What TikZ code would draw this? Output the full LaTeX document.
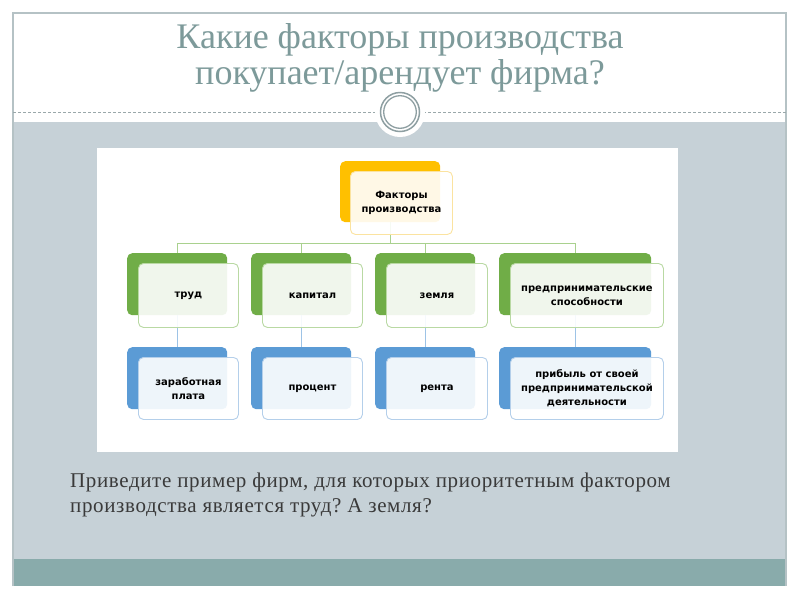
\documentclass[tikz,border=0pt]{standalone}
\usepackage{fontspec}
\setmainfont{Liberation Serif}
\newfontfamily\boxfont{DejaVu Sans}
\newfontfamily\bodyfont[LetterSpace=3]{Liberation Serif}
\definecolor{framec}{HTML}{B5C2C5}
\definecolor{slidegray}{HTML}{C6D1D7}
\definecolor{slideteal}{HTML}{89ABAB}
\definecolor{titlec}{HTML}{7D9A9A}
\definecolor{ringc}{HTML}{8E9FA2}
\definecolor{dashc}{HTML}{9AA8AA}
\definecolor{bodyc}{HTML}{3A3A3A}
\definecolor{yel}{HTML}{FFC000}
\definecolor{yellight}{HTML}{FBE3A0}
\definecolor{grn}{HTML}{70AD47}
\definecolor{grnlight}{HTML}{B9D9A3}
\definecolor{blu}{HTML}{5B9BD5}
\definecolor{blulight}{HTML}{B4CFEA}
\definecolor{grnline}{HTML}{A9D18E}
\definecolor{bluline}{HTML}{9DC3E6}
\tikzset{
  backbox/.style={anchor=north west, rounded corners=5pt, inner sep=0pt, minimum height=62pt},
  frontbox/.style={anchor=north west, rounded corners=5pt, inner sep=2pt, minimum height=64pt,
    fill=white, fill opacity=0.9, text opacity=1, line width=0.9pt, align=center,
    font=\boxfont\bfseries\fontsize{10}{14}\selectfont, text=black},
  gconn/.style={draw=grnline, line width=1.1pt},
  bconn/.style={draw=bluline, line width=1.1pt},
  titletext/.style={anchor=base, text=titlec, font=\fontsize{36}{40}\selectfont, inner sep=0pt},
  bodytext/.style={anchor=base west, text=bodyc, font=\bodyfont\frenchspacing\fontsize{21}{25}\selectfont, inner sep=0pt}
}
\begin{document}
\begin{tikzpicture}[x=1pt,y=-1pt]
\useasboundingbox (0,0) rectangle (800,600);
\fill[white] (0,0) rectangle (800,600);
% slide frame
\fill[white] (13,13) rectangle (786,122);
\fill[slidegray] (13,122) rectangle (786,559);
\fill[slideteal] (13,559) rectangle (786,586);
\draw[framec, line width=1.3pt] (13,586) -- (13,13) -- (786,13) -- (786,586);
\draw[dashc, line width=0.8pt, dash pattern=on 3pt off 2pt] (13,112) -- (786,112);
% circle ornament
\fill[white] (400,112) circle[radius=25];
\draw[ringc, line width=1.5pt] (400,112) circle[radius=19.5];
\draw[ringc, line width=1.3pt] (400,112) circle[radius=16.3];
% title
\node[titletext] (title1) at (400,48) {Какие факторы производства};
\node[titletext] (title2) at (400,84) {покупает/арендует фирма?};
% picture panel
\fill[white] (97,148) rectangle (678,452);
% back boxes
\node[backbox, fill=yel, minimum width=100pt, minimum height=61pt] (tb) at (340,161) {};
\node[backbox, fill=grn, minimum width=100pt] (g1b) at (127,253) {};
\node[backbox, fill=grn, minimum width=100pt] (g2b) at (251,253) {};
\node[backbox, fill=grn, minimum width=100pt] (g3b) at (375,253) {};
\node[backbox, fill=grn, minimum width=152pt] (g4b) at (499,253) {};
\node[backbox, fill=blu, minimum width=100pt] (b1b) at (127,347) {};
\node[backbox, fill=blu, minimum width=100pt] (b2b) at (251,347) {};
\node[backbox, fill=blu, minimum width=100pt] (b3b) at (375,347) {};
\node[backbox, fill=blu, minimum width=152pt] (b4b) at (499,347) {};
% connectors
\draw[gconn] (tb.south) -- ++(0,21) -| (g1b.north);
\draw[gconn] (tb.south) -- ++(0,21) -| (g2b.north);
\draw[gconn] (tb.south) -- ++(0,21) -| (g3b.north);
\draw[gconn] (tb.south) -- ++(0,21) -| (g4b.north);
\draw[bconn] (g1b.south) -- (b1b.north);
\draw[bconn] (g2b.south) -- (b2b.north);
\draw[bconn] (g3b.south) -- (b3b.north);
\draw[bconn] (g4b.south) -- (b4b.north);
% front boxes
\node[frontbox, draw=yellight, minimum width=102pt, minimum height=63pt] (top) at (350,171) {Факторы\\производства};
\node[frontbox, draw=grnlight, minimum width=100pt] (g1) at (138,263) {труд};
\node[frontbox, draw=grnlight, minimum width=100pt] (g2) at (262,263) {капитал};
\node[frontbox, draw=grnlight, minimum width=101pt] (g3) at (386,263) {земля};
\node[frontbox, draw=grnlight, minimum width=153pt] (g4) at (510,263) {предпринимательские\\способности};
\node[frontbox, draw=blulight, minimum width=100pt, minimum height=62pt] (b1) at (138,357) {заработная\\плата};
\node[frontbox, draw=blulight, minimum width=100pt, minimum height=62pt] (b2) at (262,357) {процент};
\node[frontbox, draw=blulight, minimum width=101pt, minimum height=62pt] (b3) at (386,357) {рента};
\node[frontbox, draw=blulight, minimum width=153pt, minimum height=62pt] (b4) at (510,357) {прибыль от своей\\предпринимательской\\деятельности};
% body text
\node[bodytext] (q1) at (70,487) {Приведите пример фирм, для которых приоритетным фактором};
\node[bodytext] (q2) at (70,512) {производства является труд? А земля?};
\end{tikzpicture}
\end{document}
